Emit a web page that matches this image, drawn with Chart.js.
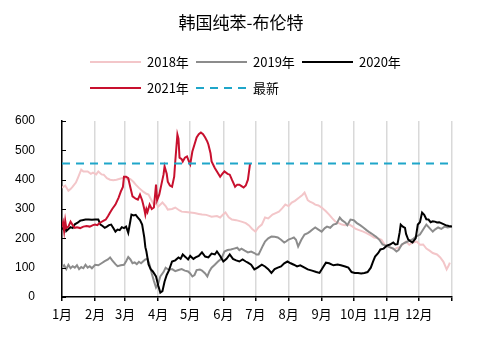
<!DOCTYPE html>
<html>
<head>
<meta charset="utf-8">
<title>韩国纯苯-布伦特</title>
<script src="https://cdn.jsdelivr.net/npm/chart.js@4.4.1/dist/chart.umd.min.js"></script>
<style>
  body { margin: 0; background: #fff; }
  canvas { display: block; }
</style>
</head>
<body>
<canvas id="spread" width="478" height="339"></canvas>
<script>
// 月份刻度（按一年中的天数）
const monthLabels = ['1月', '2月', '3月', '4月', '5月', '6月', '7月', '8月', '9月', '10月', '11月', '12月'];
const monthStarts = [0, 31, 59, 90, 120, 151, 181, 212, 243, 273, 304, 334, 365];
const yTicks = [0, 100, 200, 300, 400, 500, 600];

// 2018年
const days2018 = [0, 3, 6, 8, 10, 13, 15, 18, 20, 24, 27, 29, 32, 34, 37, 39, 42, 45, 48, 51, 55, 59, 62, 64, 67, 69, 72, 76, 79, 81, 83, 86, 88, 90, 94, 97, 99, 103, 106, 110, 112, 116, 120, 124, 128, 131, 135, 140, 145, 148, 151, 153, 156, 159, 163, 168, 172, 175, 178, 181, 184, 187, 190, 193, 197, 200, 203, 206, 209, 212, 215, 218, 222, 225, 227, 230, 232, 235, 237, 240, 243, 247, 250, 253, 256, 259, 262, 265, 269, 272, 275, 278, 282, 285, 289, 292, 296, 299, 302, 305, 308, 311, 314, 316, 319, 322, 325, 328, 332, 335, 338, 341, 344, 347, 351, 354, 357, 360, 362, 363];
const vals2018 = [373, 380, 362, 368, 376, 390, 407, 434, 428, 428, 420, 424, 418, 428, 418, 417, 405, 400, 398, 400, 404, 407, 400, 402, 392, 383, 372, 359, 352, 349, 335, 315, 320, 308, 322, 310, 298, 300, 305, 295, 291, 290, 288, 286, 283, 281, 280, 274, 276, 271, 282, 288, 272, 264, 262, 257, 252, 244, 232, 223, 238, 247, 271, 268, 281, 286, 291, 302, 315, 310, 322, 328, 339, 348, 356, 330, 325, 320, 315, 312, 305, 292, 281, 268, 257, 252, 247, 245, 247, 240, 232, 228, 223, 218, 210, 203, 200, 195, 178, 173, 168, 162, 168, 170, 180, 189, 178, 185, 189, 178, 179, 165, 158, 150, 145, 135, 120, 94, 108, 117];

// 2019年
const days2019 = [0, 2, 4, 6, 8, 10, 12, 14, 16, 18, 20, 22, 24, 26, 28, 31, 34, 37, 40, 43, 45, 47, 50, 52, 55, 58, 60, 62, 64, 66, 68, 70, 72, 74, 76, 78, 80, 82, 84, 86, 88, 90, 92, 95, 97, 100, 103, 106, 109, 112, 115, 118, 120, 122, 124, 126, 129, 131, 134, 136, 138, 140, 143, 146, 149, 152, 155, 158, 161, 164, 166, 168, 171, 174, 177, 180, 182, 184, 186, 188, 190, 193, 196, 199, 202, 205, 208, 210, 212, 215, 217, 219, 221, 224, 227, 230, 232, 235, 237, 240, 243, 246, 248, 251, 254, 257, 260, 262, 265, 267, 270, 273, 276, 279, 282, 285, 288, 291, 294, 297, 300, 303, 307, 310, 313, 315, 318, 321, 324, 328, 331, 335, 338, 341, 344, 347, 349, 352, 355, 358, 361, 365];
const vals2019 = [100, 108, 95, 110, 98, 105, 100, 108, 95, 102, 98, 110, 100, 105, 98, 110, 108, 115, 122, 128, 135, 125, 112, 105, 108, 110, 122, 136, 128, 115, 118, 112, 120, 115, 122, 128, 130, 110, 80, 55, 32, 45, 70, 85, 100, 92, 95, 88, 92, 95, 90, 87, 80, 70, 75, 92, 94, 90, 80, 70, 88, 100, 110, 121, 130, 155, 160, 162, 165, 168, 160, 165, 158, 152, 155, 150, 145, 145, 160, 175, 189, 200, 206, 205, 203, 195, 186, 190, 196, 200, 203, 195, 172, 195, 213, 218, 223, 232, 237, 230, 223, 235, 240, 236, 247, 250, 271, 262, 254, 245, 264, 262, 252, 245, 237, 228, 220, 213, 205, 195, 179, 175, 169, 165, 155, 160, 179, 185, 190, 196, 205, 213, 230, 247, 235, 223, 230, 237, 232, 240, 237, 240];

// 2020年
const days2020 = [0, 2, 3, 4, 6, 8, 10, 12, 15, 17, 19, 22, 25, 28, 31, 34, 36, 38, 40, 42, 44, 46, 48, 50, 52, 54, 56, 58, 60, 62, 64, 65, 67, 69, 71, 73, 75, 77, 78, 79, 81, 83, 85, 88, 90, 92, 94, 96, 98, 100, 103, 106, 109, 111, 113, 116, 118, 120, 123, 125, 128, 131, 134, 137, 140, 143, 145, 148, 151, 154, 157, 160, 163, 166, 169, 172, 174, 177, 180, 183, 187, 190, 193, 196, 199, 202, 205, 208, 211, 214, 217, 220, 223, 227, 230, 234, 238, 241, 244, 247, 250, 254, 258, 261, 265, 268, 271, 274, 277, 280, 283, 286, 289, 291, 293, 296, 298, 301, 304, 307, 310, 312, 314, 316, 317, 319, 321, 322, 324, 326, 328, 331, 333, 335, 337, 339, 341, 343, 345, 347, 349, 351, 353, 356, 359, 362, 365];
const vals2020 = [236, 228, 245, 225, 232, 238, 235, 248, 254, 260, 262, 264, 264, 263, 264, 264, 247, 242, 236, 240, 245, 247, 235, 223, 230, 228, 238, 235, 240, 219, 260, 281, 278, 280, 271, 262, 247, 203, 170, 155, 111, 95, 87, 70, 40, 15, 20, 53, 75, 90, 121, 125, 135, 130, 145, 135, 128, 140, 130, 135, 140, 152, 138, 135, 148, 145, 155, 140, 121, 130, 145, 130, 125, 121, 128, 121, 117, 110, 94, 100, 110, 104, 95, 82, 95, 100, 104, 115, 121, 115, 110, 104, 108, 100, 94, 90, 85, 82, 100, 117, 115, 108, 111, 108, 104, 100, 85, 82, 82, 80, 82, 85, 100, 120, 138, 150, 162, 165, 175, 179, 186, 179, 180, 220, 247, 240, 236, 215, 196, 190, 186, 200, 247, 255, 288, 280, 265, 264, 255, 258, 257, 254, 255, 250, 245, 242, 240];

// 2021年
const days2021 = [0, 1, 2, 3, 4, 6, 8, 10, 12, 14, 17, 20, 23, 26, 29, 31, 33, 36, 39, 41, 43, 45, 47, 50, 53, 55, 57, 58, 60, 62, 64, 66, 69, 71, 73, 75, 76, 77, 78, 79, 80, 82, 84, 86, 88, 89, 91, 93, 95, 96, 98, 99, 101, 103, 105, 106, 108, 109, 110, 112, 113, 115, 117, 119, 120, 122, 124, 126, 128, 130, 132, 134, 136, 137, 139, 140, 143, 145, 148, 150, 152, 155, 157, 159, 162, 164, 166, 168, 170, 172, 174, 176];
const vals2021 = [240, 254, 225, 260, 235, 240, 257, 245, 236, 238, 235, 240, 242, 240, 245, 247, 245, 254, 260, 264, 275, 288, 300, 315, 339, 359, 375, 410, 410, 405, 373, 343, 335, 332, 349, 330, 315, 300, 281, 300, 290, 315, 300, 305, 383, 330, 349, 383, 417, 445, 420, 393, 380, 376, 410, 462, 554, 540, 475, 470, 462, 475, 479, 460, 452, 496, 520, 544, 555, 561, 555, 544, 530, 520, 490, 462, 440, 428, 410, 420, 428, 420, 417, 400, 376, 383, 383, 378, 373, 380, 400, 455];

// 最新值
const latest = vals2021[vals2021.length - 1];

function toPoints(days, vals) {
    return days.map((d, i) => ({ x: d, y: vals[i] }));
}

const seriesStyle = [
    { label: '2018年', color: '#f3c6c9', dash: [] },
    { label: '2019年', color: '#8c8c8c', dash: [] },
    { label: '2020年', color: '#000000', dash: [] },
    { label: '2021年', color: '#c8102e', dash: [] },
    { label: '最新', color: '#1fa6c9', dash: [8, 6] }
];

const seriesData = [
    toPoints(days2018, vals2018),
    toPoints(days2019, vals2019),
    toPoints(days2020, vals2020),
    toPoints(days2021, vals2021),
    [{ x: 0, y: latest }, { x: 365, y: latest }]
];

const datasets = seriesStyle.map((s, i) => ({
    label: s.label,
    data: seriesData[i],
    borderColor: s.color,
    backgroundColor: s.color,
    borderWidth: 2,
    borderDash: s.dash,
    pointRadius: 0,
    tension: 0,
    fill: false,
    order: 4 - i
}));

// 标题、图例和y轴内刻度线
const legendPos = [
    { x: 90, y: 62 }, { x: 196, y: 62 }, { x: 302, y: 62 },
    { x: 90, y: 88 }, { x: 196, y: 88 }
];

const decorPlugin = {
    id: 'decor',
    afterDraw(chart) {
        const ctx = chart.ctx;
        ctx.save();
        ctx.fillStyle = '#000';
        ctx.font = '17px "Noto Sans CJK SC"';
        ctx.textAlign = 'center';
        ctx.textBaseline = 'middle';
        ctx.fillText('韩国纯苯-布伦特', 241, 23);

        ctx.font = '13px "Noto Sans CJK SC"';
        ctx.textAlign = 'left';
        seriesStyle.forEach((s, i) => {
            const p = legendPos[i];
            ctx.strokeStyle = s.color;
            ctx.lineWidth = 2;
            ctx.setLineDash(s.dash);
            ctx.beginPath();
            ctx.moveTo(p.x, p.y);
            ctx.lineTo(p.x + 51, p.y);
            ctx.stroke();
            ctx.setLineDash([]);
            ctx.fillText(s.label, p.x + 57, p.y);
        });

        const y = chart.scales.y;
        const left = chart.chartArea.left;
        ctx.strokeStyle = '#000';
        ctx.lineWidth = 1;
        yTicks.forEach(v => {
            const py = Math.round(y.getPixelForValue(v)) + 0.5;
            ctx.beginPath();
            ctx.moveTo(left, py);
            ctx.lineTo(left + 4, py);
            ctx.stroke();
        });
        ctx.restore();
    }
};

new Chart(document.getElementById('spread'), {
    type: 'line',
    data: { datasets: datasets },
    options: {
        responsive: false,
        animation: false,
        layout: { padding: { top: 121, right: 26, bottom: 0, left: 0 } },
        plugins: {
            legend: { display: false },
            title: { display: false },
            tooltip: { enabled: false }
        },
        scales: {
            x: {
                type: 'linear',
                min: 0,
                max: 365,
                afterBuildTicks(scale) {
                    scale.ticks = monthStarts.map(v => ({ value: v }));
                },
                afterFit(scale) { scale.height = 42; },
                grid: {
                    color: '#d9d9d9',
                    lineWidth: 1.5,
                    tickColor: '#000',
                    tickLength: 4
                },
                border: { color: '#000', width: 1.5 },
                ticks: {
                    autoSkip: false,
                    maxRotation: 0,
                    padding: 5,
                    color: '#000',
                    font: { family: '"Noto Sans CJK SC"', size: 13 },
                    callback: (value, index) => monthLabels[index] || ''
                }
            },
            y: {
                min: 0,
                max: 600,
                afterBuildTicks(scale) {
                    scale.ticks = yTicks.map(v => ({ value: v }));
                },
                afterFit(scale) { scale.width = 62; },
                grid: { display: false },
                border: { color: '#000', width: 1.5 },
                ticks: {
                    padding: 19,
                    color: '#000',
                    font: { family: '"Liberation Sans"', size: 12 }
                }
            }
        }
    },
    plugins: [decorPlugin]
});
</script>
</body>
</html>
